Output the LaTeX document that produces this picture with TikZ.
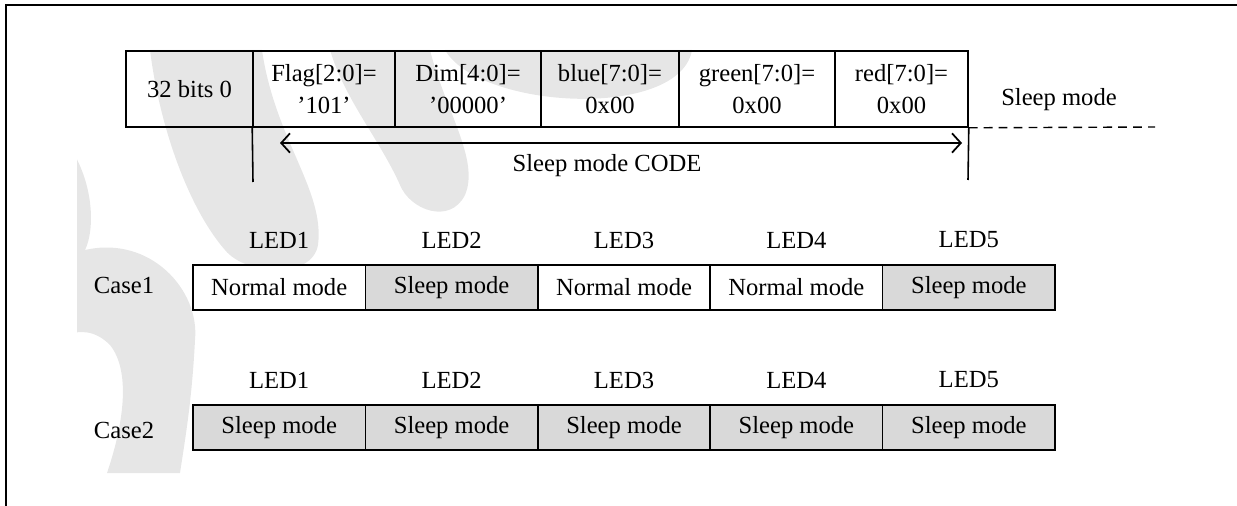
\documentclass[tikz,border=0pt]{standalone}
\usepackage{fontspec}
\setmainfont{Liberation Serif}
\usepackage{tikz}
\usetikzlibrary{arrows.meta}
\definecolor{sleepgray}{RGB}{217,217,217}
\definecolor{markgray}{RGB}{230,230,230}
\tikzset{
    field/.style={draw,line width=0.9pt,minimum height=15.2mm,inner sep=0pt,align=center,
        font=\fontsize{14}{18.5}\selectfont},
    ledbox/.style={draw,line width=0.9pt,minimum width=34.48mm,minimum height=9mm,inner sep=0pt},
    sleepbox/.style={ledbox,fill=sleepgray},
    normalbox/.style={ledbox,fill=white},
    codetick/.style={line width=0.9pt},
    codearrow/.style={<->,>={Straight Barb[length=5pt,width=11pt]},line width=1pt}
}

\begin{document}
\begin{tikzpicture}[x=0.2mm,y=-0.2mm]
\useasboundingbox (0,0) rectangle (1237,506);

% watermark in the back
\begin{scope}
\clip (77,50) rectangle (712,473);
\fill[markgray] (150,50) -- (262,50) .. controls (275,140) and (325,190) .. (318,245)
    .. controls (312,280) and (245,275) .. (225,250) .. controls (190,210) and (160,130) .. (150,50);
\fill[markgray] (330,50) -- (430,50) .. controls (445,110) and (480,160) .. (465,195)
    .. controls (450,225) and (410,210) .. (400,185) .. controls (380,140) and (345,100) .. (330,50);
\fill[markgray] (445,50) .. controls (480,110) and (680,120) .. (692,50) -- cycle;
\fill[markgray] (65,140) .. controls (95,180) and (95,230) .. (85,250)
    .. controls (150,235) and (200,290) .. (195,340) .. controls (192,400) and (185,440) .. (180,473)
    -- (107,473) .. controls (125,420) and (130,370) .. (110,345)
    .. controls (95,330) and (80,330) .. (65,335) -- cycle;
\end{scope}

\draw[line width=1.5pt] (6,506) -- (6,5) -- (1237,5);

\begin{scope}[every node/.style={font=\fontsize{14}{16}\selectfont}]
% sleep mode code word
\node[field,minimum width=25.4mm] (bits) at (189.5,89) {32 bits 0};
\node[field,minimum width=28.4mm] (flag) at (324,89) {Flag[2:0]=\\’101’};
\node[field,minimum width=29.2mm] (dim) at (468,89) {Dim[4:0]=\\’00000’};
\node[field,minimum width=27.6mm] (blue) at (610,89) {blue[7:0]=\\0x00};
\node[field,minimum width=31.2mm] (green) at (757,89) {green[7:0]=\\0x00};
\node[field,minimum width=26.6mm] (red) at (901.5,89) {red[7:0]=\\0x00};
\node (sleep) at (1059,100) {Sleep mode};
\node (code) at (607,166) {Sleep mode CODE};

\coordinate (dashend) at (1155,127);
\coordinate (t1) at (253,182);
\coordinate (t2) at (968,180);
\coordinate (a1) at (280,143);
\coordinate (a2) at (962,143);

\draw[dashed,line width=0.8pt,dash pattern=on 5pt off 3.5pt] (red.south east) -- (dashend);
\draw[codetick] (flag.south west) -- (t1);
\draw[codetick] (red.south east) -- (t2);
\draw[codearrow] (a1) -- (a2);

% case 1
\node (c1) at (124,285) {Case1};
\node[normalbox] (n11) at (279.2,287.5) {Normal mode};
\node[sleepbox] (n12) at (451.6,287.5) {Sleep mode};
\node[normalbox] (n13) at (624,287.5) {Normal mode};
\node[normalbox] (n14) at (796.4,287.5) {Normal mode};
\node[sleepbox] (n15) at (968.8,287.5) {Sleep mode};
\node (l11) at (279.2,240) {LED1};
\node (l12) at (451.6,240) {LED2};
\node (l13) at (624,240) {LED3};
\node (l14) at (796.4,240) {LED4};
\node (l15) at (968.8,240) {LED5};

% case 2
\node (c2) at (124,430) {Case2};
\node[sleepbox] (n21) at (279.2,427.5) {Sleep mode};
\node[sleepbox] (n22) at (451.6,427.5) {Sleep mode};
\node[sleepbox] (n23) at (624,427.5) {Sleep mode};
\node[sleepbox] (n24) at (796.4,427.5) {Sleep mode};
\node[sleepbox] (n25) at (968.8,427.5) {Sleep mode};
\node (l21) at (279.2,380) {LED1};
\node (l22) at (451.6,380) {LED2};
\node (l23) at (624,380) {LED3};
\node (l24) at (796.4,380) {LED4};
\node (l25) at (968.8,380) {LED5};
\end{scope}
\end{tikzpicture}
\end{document}
